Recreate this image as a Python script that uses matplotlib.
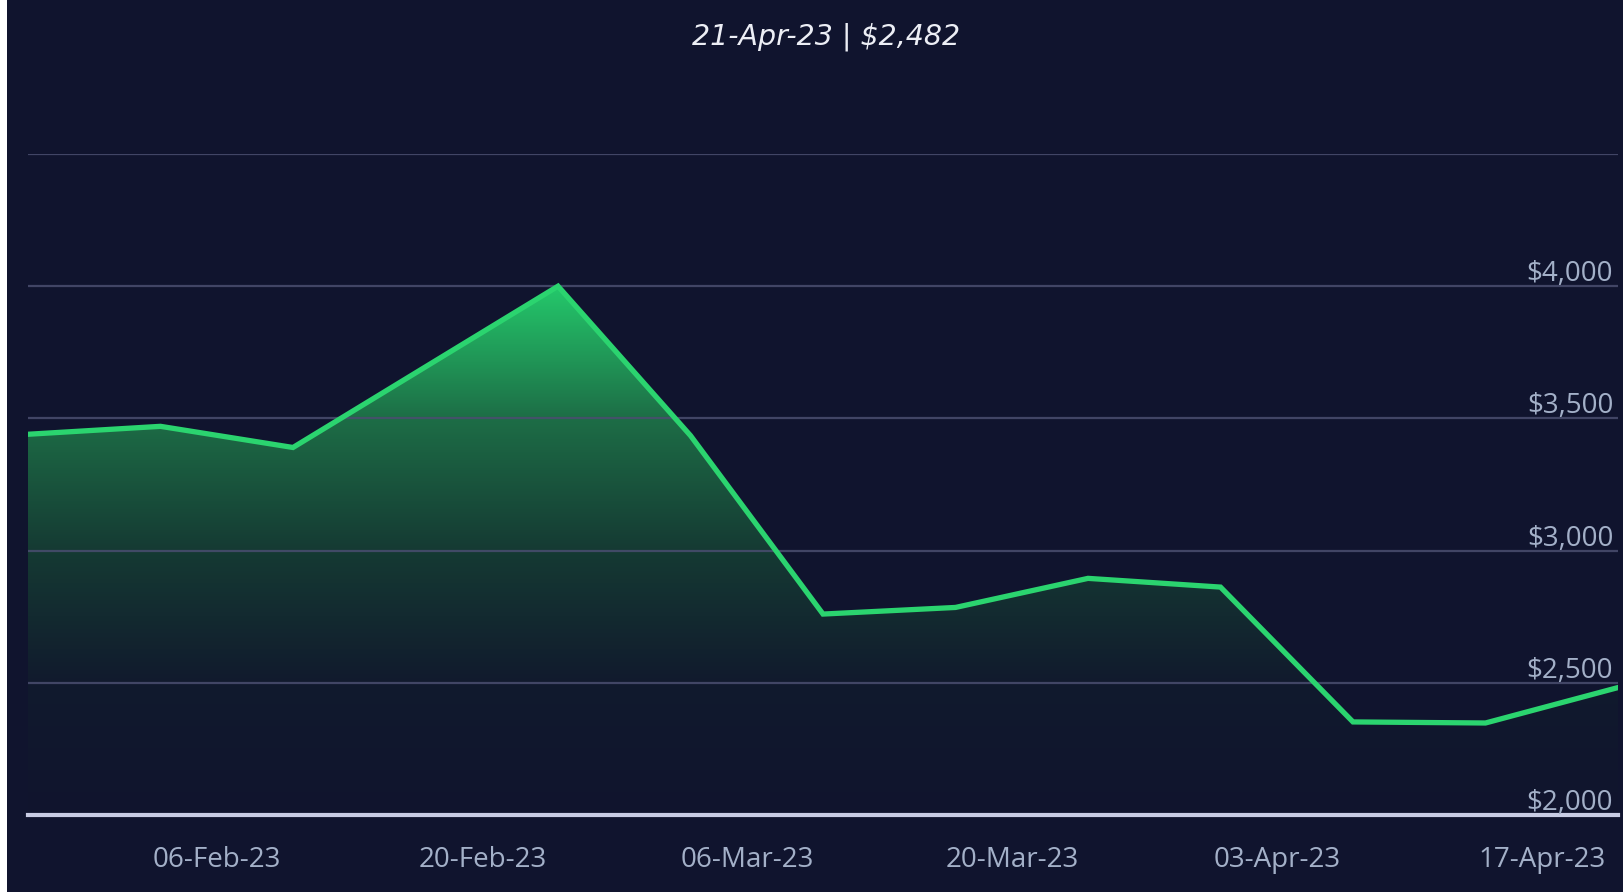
import numpy as np
import matplotlib
matplotlib.use("Agg")
import matplotlib.pyplot as plt
import matplotlib.dates as mdates
from matplotlib.colors import LinearSegmentedColormap
from matplotlib.patches import Rectangle
from datetime import datetime

# weekly price values
dates = ["2023-01-27", "2023-02-03", "2023-02-10", "2023-02-17", "2023-02-24",
         "2023-03-03", "2023-03-10", "2023-03-17", "2023-03-24", "2023-03-31",
         "2023-04-07", "2023-04-14", "2023-04-21"]
prices = [3440, 3470, 3390, 3695, 4000,
          3435, 2760, 2785, 2895, 2862,
          2352, 2348, 2482]

tick_dates = ["2023-02-06", "2023-02-20", "2023-03-06", "2023-03-20", "2023-04-03", "2023-04-17"]
y_levels = [2000, 2500, 3000, 3500, 4000]
grid_levels = [2500, 3000, 3500, 4000, 4500]
title = "21-Apr-23 | $2,482"

BG = "#10142e"
GREEN = "#2bd46f"
LABEL = "#a3b0c8"

x = mdates.date2num([datetime.strptime(d, "%Y-%m-%d") for d in dates])
xt = mdates.date2num([datetime.strptime(d, "%Y-%m-%d") for d in tick_dates])
y = np.array(prices)

fig = plt.figure(figsize=(16.23, 8.92), dpi=100, facecolor=BG)
fig.patches.append(Rectangle((0, 0), 7 / 1623, 1, transform=fig.transFigure,
                             facecolor="white", edgecolor="none", zorder=10))
ax = fig.add_axes([28 / 1623, 77 / 892, 1590 / 1623, 661 / 892])
ax.set_facecolor(BG)
ax.set_xlim(x[0], x[-1])
ax.set_ylim(2000, 4500)

# gradient fill under the line
cmap = LinearSegmentedColormap.from_list(
    "fade", [(0.0, BG), (0.25, "#111a2d"), (0.5, "#153a33"), (0.75, "#1d6d46"), (1.0, "#24c86b")])
grad = np.linspace(0, 1, 256).reshape(-1, 1)
poly = ax.fill_between(x, y, 2000, color="none", lw=0)
im = ax.imshow(grad, cmap=cmap, aspect="auto", origin="lower",
               extent=[x[0], x[-1], 2000, y.max()], zorder=1)
im.set_clip_path(poly.get_paths()[0], transform=ax.transData)

for g in grid_levels:
    ax.axhline(g, color="#4a4e70", lw=1.6, alpha=0.85, zorder=2)
ax.axhline(2000, color="#c8cce4", lw=3, zorder=4, clip_on=False)

ax.plot(x, y, color=GREEN, lw=3.8, zorder=3, solid_joinstyle="miter")

for v in y_levels:
    ax.annotate(f"${v:,}", xy=(0.997, v), xycoords=ax.get_yaxis_transform(),
                xytext=(0, 5), textcoords="offset pixels", ha="right", va="baseline",
                fontsize=20, color=LABEL, family="Open Sans", zorder=5)

ax.set_xticks(xt)
ax.set_xticklabels([datetime.strptime(d, "%Y-%m-%d").strftime("%d-%b-%y") for d in tick_dates],
                   fontsize=20, color=LABEL, family="Open Sans")
ax.tick_params(axis="x", length=0, pad=22)
ax.set_yticks([])
for s in ax.spines.values():
    s.set_visible(False)

fig.text(826 / 1623, 1 - 37 / 892, title, ha="center", va="center", fontsize=20.5,
         style="italic", color="#eceef5", family="DejaVu Sans")

fig.savefig("out.png", dpi=100, facecolor=BG)
